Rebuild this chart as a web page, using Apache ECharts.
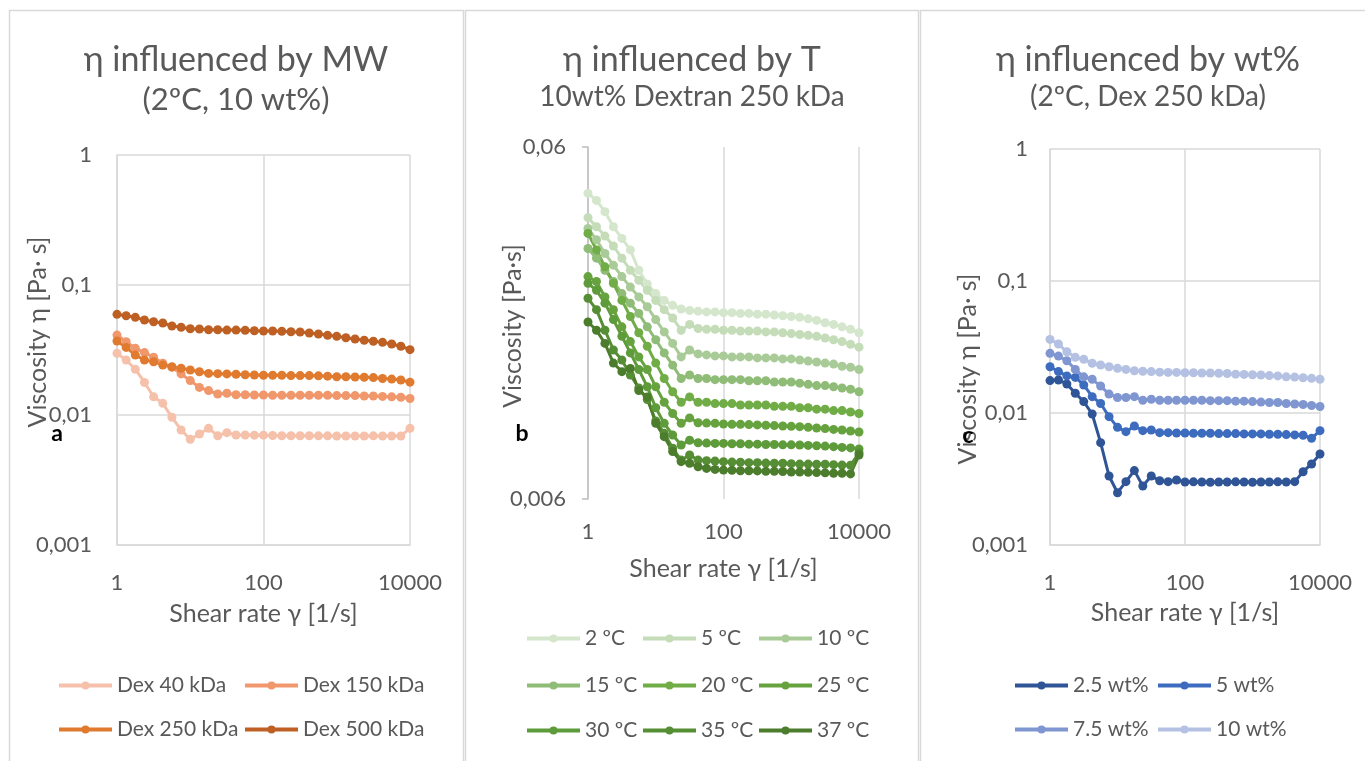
<!DOCTYPE html>
<html><head><meta charset="utf-8">
<script src="https://cdn.jsdelivr.net/npm/echarts@6/dist/echarts.min.js"></script>
<style>html,body{margin:0;padding:0;background:#fff}#c{width:1365px;height:761px}</style>
</head><body><div id="c"></div>
<script>
// ---------- data ----------
const shearRate = [1, 1.334, 1.778, 2.371, 3.162, 4.217, 5.623, 7.499, 10, 13.34, 17.78, 23.71, 31.62, 42.17, 56.23, 74.99, 100, 133.4, 177.8, 237.1, 316.2, 421.7, 562.3, 749.9, 1000, 1334, 1778, 2371, 3162, 4217, 5623, 7499, 10000];

// panel a: influence of MW
const mwNames = ['Dex 40 kDa', 'Dex 150 kDa', 'Dex 250 kDa', 'Dex 500 kDa'];
const dex40 = [0.0298,0.0265,0.0225,0.0178,0.0138,0.0123,0.0096,0.00767,0.0065,0.00714,0.0079,0.00693,0.00731,0.00702,0.00702,0.007,0.007,0.00695,0.00693,0.00693,0.00692,0.00692,0.00691,0.00691,0.0069,0.0069,0.0069,0.0069,0.00691,0.0069,0.0069,0.0069,0.0079];
const dex150 = [0.0412,0.0366,0.0326,0.0302,0.0278,0.025,0.0233,0.0207,0.0184,0.0163,0.0154,0.0145,0.0147,0.0143,0.0143,0.01425,0.01425,0.0142,0.0142,0.0142,0.0142,0.0142,0.0142,0.0142,0.0141,0.0141,0.0141,0.014,0.014,0.0139,0.0138,0.0137,0.0134];
const dex250 = [0.0371,0.0331,0.0289,0.0265,0.0257,0.0242,0.0235,0.0229,0.0222,0.0215,0.0209,0.0208,0.0207,0.0206,0.0204,0.0203,0.0202,0.0202,0.0202,0.0201,0.0201,0.0201,0.02,0.0199,0.0197,0.0197,0.0196,0.0195,0.0194,0.0191,0.0189,0.0186,0.0179];
const dex500 = [0.0595,0.058,0.0564,0.0538,0.0522,0.051,0.0484,0.0473,0.0461,0.0459,0.0453,0.0453,0.045,0.045,0.0448,0.0445,0.0443,0.0443,0.044,0.0437,0.0435,0.0427,0.042,0.041,0.0403,0.0393,0.0384,0.0376,0.0369,0.0362,0.0352,0.0338,0.0318];

// panel b: influence of temperature
const tNames = ['2 ºC', '5 ºC', '10 ºC', '15 ºC', '20 ºC', '25 ºC', '30 ºC', '35 ºC', '37 ºC'];
const t2 = [0.0443,0.0423,0.0393,0.0356,0.033,0.0306,0.0268,0.0245,0.023,0.022,0.0213,0.0208,0.0206,0.0205,0.0204,0.0204,0.0203,0.0203,0.0202,0.0202,0.0201,0.0201,0.02,0.0199,0.0198,0.0197,0.0195,0.0193,0.019,0.0188,0.0185,0.0182,0.0178];
const t5 = [0.0378,0.0356,0.0335,0.0314,0.029,0.0268,0.0251,0.0235,0.022,0.0207,0.0196,0.0181,0.0188,0.0183,0.0182,0.0182,0.0181,0.0181,0.018,0.018,0.018,0.0179,0.0179,0.0178,0.0177,0.0176,0.0175,0.0174,0.0172,0.017,0.0168,0.0165,0.0162];
const t10 = [0.0352,0.0327,0.0299,0.0277,0.0257,0.024,0.0225,0.0211,0.0194,0.0179,0.0166,0.0152,0.0159,0.0155,0.0154,0.0153,0.0153,0.0152,0.0152,0.0152,0.0151,0.0151,0.0151,0.015,0.015,0.0149,0.0148,0.0147,0.0146,0.0145,0.0143,0.0142,0.014];
const t15 = [0.0309,0.029,0.0268,0.0249,0.023,0.0216,0.0202,0.0185,0.017,0.0156,0.0144,0.0132,0.0135,0.0132,0.0132,0.0131,0.0131,0.0131,0.0131,0.013,0.013,0.013,0.0129,0.0129,0.0129,0.0128,0.0127,0.0126,0.0126,0.0125,0.0124,0.0123,0.0121];
const t20 = [0.0341,0.0306,0.0274,0.0246,0.022,0.0198,0.0178,0.0163,0.0146,0.0132,0.0121,0.0113,0.0117,0.0113,0.0113,0.0112,0.0112,0.0112,0.0111,0.0111,0.0111,0.0111,0.011,0.011,0.011,0.0109,0.0109,0.0108,0.0108,0.0107,0.0107,0.0106,0.0105];
const t25 = [0.0257,0.0249,0.0225,0.0207,0.0185,0.0168,0.0152,0.014,0.0125,0.0113,0.0105,0.00984,0.0102,0.00988,0.00986,0.00984,0.0098,0.00978,0.00978,0.00976,0.00974,0.00972,0.0097,0.00967,0.00965,0.00963,0.00959,0.00955,0.00951,0.00946,0.00942,0.00936,0.0093];
const t30 = [0.0246,0.0235,0.0216,0.0194,0.0174,0.0156,0.014,0.0125,0.0109,0.00984,0.00912,0.00854,0.00881,0.00867,0.00865,0.00863,0.00863,0.00861,0.00861,0.00859,0.00859,0.00857,0.00857,0.00855,0.00855,0.00854,0.00852,0.0085,0.00848,0.00845,0.00841,0.00838,0.00832];
const t35 = [0.0223,0.0207,0.0181,0.0159,0.0149,0.0135,0.0124,0.0115,0.01,0.00922,0.00836,0.00774,0.008,0.00774,0.00771,0.00769,0.00766,0.00764,0.00763,0.00761,0.00761,0.00759,0.00758,0.00758,0.00756,0.00754,0.00754,0.00753,0.00753,0.00751,0.00749,0.00748,0.00812];
const t37 = [0.0191,0.0181,0.0166,0.0146,0.0138,0.0141,0.0122,0.0117,0.00984,0.00902,0.00818,0.00766,0.00758,0.00741,0.00733,0.00728,0.00725,0.00724,0.00722,0.00722,0.00721,0.00719,0.00719,0.00718,0.00716,0.00716,0.00715,0.00713,0.00712,0.0071,0.0071,0.00707,0.008];

// panel c: influence of concentration
const wNames = ['2.5 wt%', '5 wt%', '7.5 wt%', '10 wt%'];
const w25 = [0.0176,0.0178,0.0166,0.0141,0.0122,0.00983,0.00596,0.00333,0.00249,0.00302,0.00366,0.0028,0.00333,0.00307,0.00302,0.00311,0.003,0.00301,0.003,0.00299,0.003,0.003,0.00301,0.003,0.00299,0.003,0.003,0.00301,0.003,0.00302,0.00359,0.00411,0.00489];
const w5 = [0.0224,0.0206,0.0191,0.0186,0.0163,0.0133,0.0118,0.00938,0.00779,0.00722,0.00797,0.00735,0.00743,0.0071,0.0071,0.00706,0.00706,0.00702,0.00702,0.00702,0.00698,0.00698,0.00698,0.00694,0.00694,0.00694,0.0069,0.0069,0.00686,0.00682,0.00678,0.00643,0.00735];
const w75 = [0.0283,0.027,0.0249,0.0214,0.0188,0.018,0.016,0.0139,0.0131,0.0131,0.0133,0.0125,0.0127,0.0125,0.0125,0.0125,0.0125,0.0125,0.0125,0.0124,0.0124,0.0124,0.0123,0.0123,0.0122,0.0121,0.012,0.012,0.0118,0.0117,0.0116,0.0114,0.0112];
const w10 = [0.0361,0.0333,0.0291,0.0264,0.0255,0.0238,0.0231,0.0224,0.0218,0.0214,0.0209,0.0207,0.0206,0.0204,0.0203,0.0203,0.0202,0.0202,0.0201,0.0201,0.02,0.0199,0.0197,0.0196,0.0195,0.0194,0.0192,0.0191,0.0188,0.0187,0.0185,0.0183,0.018];

const yTicksB = [0.006, 0.06];

// ---------- styling / layout ----------
const FONT = 'Lato';
const GREY = '#595959';
const GRIDC = '#d9d9d9';
const mwColors = ['#F5C1AB', '#F0976C', '#E07A2F', '#BE6024'];
const tColors = ['#D4E6CC', '#C4DCB8', '#A9CB97', '#8FBC76', '#70AD47', '#66A33F', '#5E9B3A', '#558E34', '#4B7D2D'];
const wColors = ['#2F5597', '#3D6CBF', '#7F96D1', '#B4C1E3'];
const TICK_FS = 22, NAME_FS = 25, LEG_FS = 21;

const fmt = v => String(Number(Number(v).toPrecision(6))).replace('.', ',');

function mkSeries(name, vals, color, idx) {
  return {
    type: 'line', name: name, xAxisIndex: idx, yAxisIndex: idx,
    data: vals.map((v, i) => [shearRate[i], v]),
    symbol: 'circle', symbolSize: 9, showSymbol: true,
    lineStyle: { width: 3, color: color }, itemStyle: { color: color },
    emphasis: { disabled: true }, animation: false
  };
}
const series = [];
[dex40, dex150, dex250, dex500].forEach((d, i) => series.push(mkSeries(mwNames[i], d, mwColors[i], 0)));
[t2, t5, t10, t15, t20, t25, t30, t35, t37].forEach((d, i) => series.push(mkSeries(tNames[i], d, tColors[i], 1)));
[w25, w5, w75, w10].forEach((d, i) => series.push(mkSeries(wNames[i], d, wColors[i], 2)));

function xAxis(gi, margin, nameGap, showLine) {
  return {
    type: 'log', logBase: 100, min: 1, max: 10000, gridIndex: gi,
    name: 'Shear rate γ [1/s]', nameLocation: 'middle', nameGap: nameGap,
    nameTextStyle: { color: GREY, fontSize: NAME_FS, fontFamily: FONT },
    axisLine: { show: showLine, lineStyle: { color: GRIDC, width: 1.5 } },
    axisTick: { show: false }, minorTick: { show: false },
    axisLabel: { color: GREY, fontSize: TICK_FS, fontFamily: FONT, margin: margin, formatter: fmt },
    splitLine: { show: true, lineStyle: { color: GRIDC, width: 1.5 } }
  };
}

const grids = [
  { left: 117, top: 155, width: 293, height: 390, outerBoundsMode: 'none' },
  { left: 588, top: 147, width: 271, height: 352, outerBoundsMode: 'none' },
  { left: 1050, top: 149, width: 270, height: 396, outerBoundsMode: 'none' }
];

const yAxes = [
  { type: 'log', logBase: 10, min: 0.001, max: 1, gridIndex: 0,
    axisLine: { show: true, lineStyle: { color: GRIDC, width: 1.5 } }, axisTick: { show: false }, minorTick: { show: false },
    axisLabel: { color: GREY, fontSize: TICK_FS, fontFamily: FONT, margin: 25, formatter: fmt },
    splitLine: { show: true, lineStyle: { color: GRIDC, width: 1.5 } } },
  { type: 'log', logBase: 10, min: 0.006, max: 0.06, gridIndex: 1,
    axisLine: { show: true, lineStyle: { color: '#bfbfbf', width: 1.5 } },
    axisTick: { show: true, length: 6, lineStyle: { color: '#bfbfbf', width: 1.5 }, customValues: yTicksB },
    minorTick: { show: false },
    axisLabel: { color: GREY, fontSize: TICK_FS, fontFamily: FONT, margin: 22, formatter: fmt, customValues: yTicksB },
    splitLine: { show: false } },
  { type: 'log', logBase: 10, min: 0.001, max: 1, gridIndex: 2,
    axisLine: { show: true, lineStyle: { color: GRIDC, width: 1.5 } }, axisTick: { show: false }, minorTick: { show: false },
    axisLabel: { color: GREY, fontSize: TICK_FS, fontFamily: FONT, margin: 22, formatter: fmt },
    splitLine: { show: true, lineStyle: { color: GRIDC, width: 1.5 } } }
];

// legend item positions (line start x, row centre y)
const legendPos = {
  'Dex 40 kDa': [57, 686], 'Dex 150 kDa': [243, 686], 'Dex 250 kDa': [57, 730], 'Dex 500 kDa': [243, 730],
  '2 ºC': [525, 639], '5 ºC': [641, 639], '10 ºC': [757, 639],
  '15 ºC': [525, 686], '20 ºC': [641, 686], '25 ºC': [757, 686],
  '30 ºC': [525, 731], '35 ºC': [641, 731], '37 ºC': [757, 731],
  '2.5 wt%': [1013, 686], '5 wt%': [1156, 686], '7.5 wt%': [1013, 730], '10 wt%': [1156, 730]
};
const legends = Object.keys(legendPos).map(n => ({
  data: [n], left: legendPos[n][0], top: legendPos[n][1] - 11, padding: 0,
  itemWidth: 53, itemHeight: 10, itemGap: 0, selectedMode: false,
  lineStyle: { width: 4 },
  textStyle: { color: GREY, fontSize: LEG_FS, fontFamily: FONT }
}));

const titleStyle = { color: GREY, fontSize: 34, fontWeight: 'normal', fontFamily: FONT };
const titles = [
  { text: 'η influenced by MW', subtext: '(2ºC, 10 wt%)', left: 236, top: 43, textAlign: 'center', padding: 0, itemGap: 7,
    textStyle: titleStyle, subtextStyle: { color: GREY, fontSize: 31, fontFamily: FONT } },
  { text: 'η influenced by T', subtext: '10wt% Dextran 250 kDa', left: 692, top: 43, textAlign: 'center', padding: 0, itemGap: 6,
    textStyle: titleStyle, subtextStyle: { color: GREY, fontSize: 28, fontFamily: FONT } },
  { text: 'η influenced by wt%', subtext: '(2ºC, Dex 250 kDa)', left: 1148, top: 43, textAlign: 'center', padding: 0, itemGap: 6,
    textStyle: titleStyle, subtextStyle: { color: GREY, fontSize: 28, fontFamily: FONT } }
];

function txt(x, y, text, size, color, weight, rot) {
  return { type: 'text', x: x, y: y, rotation: rot || 0, silent: true, z: 10,
    style: { text: text, fontSize: size, fontFamily: FONT, fontWeight: weight || 'normal', fill: color,
      align: 'center', verticalAlign: 'middle', textAlign: 'center', textVerticalAlign: 'middle' } };
}
function box(x, w) {
  return { type: 'rect', silent: true, z: -1, shape: { x: x, y: 10.5, width: w, height: 800 },
    style: { fill: 'none', stroke: '#d9d9d9', lineWidth: 1.5 } };
}
const graphics = [
  box(9.5, 454), box(465.5, 453), box(920.5, 480),
  txt(38, 332, 'Viscosity η [Pa· s]', NAME_FS, GREY, 'normal', Math.PI / 2),
  txt(513, 326, 'Viscosity [Pa·s]', NAME_FS, GREY, 'normal', Math.PI / 2),
  txt(968, 369, 'Viscosity η [Pa· s]', NAME_FS, GREY, 'normal', Math.PI / 2),
  txt(57, 434, 'a', 23, '#000', 'bold'),
  txt(522, 434, 'b', 23, '#000', 'bold'),
  txt(968, 436, 'c', 23, '#000', 'bold')
];

const chart = echarts.init(document.getElementById('c'));
chart.setOption({
  animation: false,
  backgroundColor: '#fff',
  title: titles,
  legend: legends,
  grid: grids,
  xAxis: [xAxis(0, 27, 56, true), xAxis(1, 22, 57, false), xAxis(2, 27, 55, true)],
  yAxis: yAxes,
  series: series,
  graphic: graphics
});
</script>
</body></html>
